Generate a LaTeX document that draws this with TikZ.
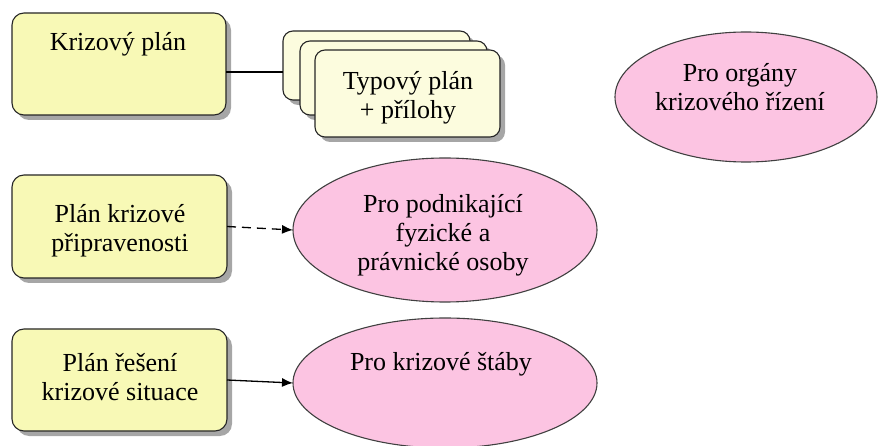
\documentclass[tikz,border=0pt]{standalone}
\usepackage{fontspec}
\setmainfont{Liberation Serif}
\usetikzlibrary{shapes.geometric,shadows,arrows.meta}
\definecolor{planyellow}{HTML}{F8F9B6}
\definecolor{pagecream}{HTML}{FCFCDE}
\definecolor{rolepink}{HTML}{FCC4E2}

\begin{document}
\begin{tikzpicture}[x=1pt,y=-1pt,
  every node/.style={outer sep=0pt, inner sep=0pt, font=\fontsize{26}{29}\selectfont},
  planbox/.style={draw=black!85, line width=1.1pt, rounded corners=12pt, fill=planyellow,
    drop shadow={shadow xshift=5pt, shadow yshift=-5pt, opacity=1, fill=black!35}},
  pagebox/.style={planbox, rounded corners=10pt, fill=pagecream},
  rolebubble/.style={ellipse, draw=black!75, line width=1.1pt, fill=rolepink},
  label/.style={align=center},
  link/.style={line width=1.3pt}]
\useasboundingbox (0,0) rectangle (884,446);

% plany
\node[planbox, minimum width=214, minimum height=102] (krizovy) at (119,64) {};
\node[planbox, minimum width=215, minimum height=103] (pripravenost) at (119.5,226.5) {};
\node[planbox, minimum width=215, minimum height=102] (reseni) at (119.5,380) {};

% typovy plan + prilohy
\node[pagebox, minimum width=187, minimum height=69] (page1) at (376.5,65.5) {};
\node[pagebox, minimum width=187, minimum height=74] (page2) at (393.5,78) {};
\node[pagebox, minimum width=185, minimum height=87] (page3) at (407.5,93.5) {};

% adresati
\node[rolebubble, minimum width=262, minimum height=130] (organy) at (746,97) {};
\node[rolebubble, minimum width=304, minimum height=144] (podnik) at (445,230) {};
\node[rolebubble, minimum width=304, minimum height=130] (staby) at (445,383) {};

% texty
\node[label] (tkrizovy) at (118,44) {Krizový plán};
\node[label] (tpripravenost) at (120,231) {Plán krizové\\připravenosti};
\node[label] (treseni) at (120,377) {Plán řešení\\krizové situace};
\node[label] (tpage) at (408,98) {Typový plán\\+ přílohy};
\node[label] (torgany) at (740,87) {Pro orgány\\krizového řízení};
\node[label] (tpodnik) at (443,235) {Pro podnikající\\fyzické a\\právnické osoby};
\node[label] (tstaby) at (441,364) {Pro krizové štáby};

% spojnice
\draw[link] ([yshift=-8pt]krizovy.east) -- ([yshift=-8pt]krizovy.east -| page1.west);
\draw[link, dash pattern=on 9pt off 6pt, -{Latex[length=11pt,width=9pt]}] (pripravenost.east) -- (podnik.west);
\draw[link, -{Latex[length=11pt,width=9pt]}] (reseni.east) -- (staby.west);
\end{tikzpicture}
\end{document}
